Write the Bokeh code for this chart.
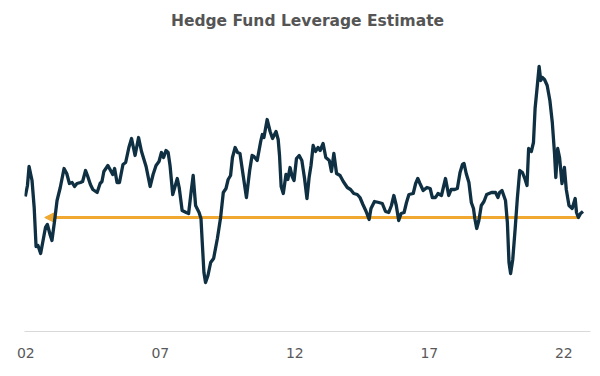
from bokeh.plotting import figure
from bokeh.models import Range1d, FixedTicker, Arrow, NormalHead, ColumnDataSource
from bokeh.embed import file_html
from bokeh.resources import INLINE

# ---- data ----
years = [
    2001.98, 2002.06, 2002.12, 2002.23, 2002.31, 2002.38, 2002.45, 2002.55, 2002.64, 2002.73,
    2002.80, 2002.91, 2002.97, 2003.07, 2003.16, 2003.28, 2003.42, 2003.52, 2003.62, 2003.72,
    2003.81, 2003.90, 2004.03, 2004.11, 2004.22, 2004.29, 2004.40, 2004.49, 2004.65, 2004.76,
    2004.83, 2004.90, 2005.05, 2005.15, 2005.23, 2005.30, 2005.39, 2005.48, 2005.61, 2005.71,
    2005.83, 2005.93, 2006.06, 2006.19, 2006.30, 2006.47, 2006.62, 2006.73, 2006.84, 2006.95,
    2007.04, 2007.12, 2007.21, 2007.29, 2007.36, 2007.46, 2007.63, 2007.70, 2007.81, 2007.96,
    2008.05, 2008.15, 2008.22, 2008.31, 2008.44, 2008.51, 2008.56, 2008.62, 2008.68, 2008.77,
    2008.87, 2008.98, 2009.12, 2009.24, 2009.34, 2009.44, 2009.52, 2009.61, 2009.68, 2009.78,
    2009.87, 2009.96, 2010.09, 2010.20, 2010.32, 2010.41, 2010.48, 2010.60, 2010.73, 2010.79,
    2010.85, 2010.97, 2011.08, 2011.17, 2011.30, 2011.38, 2011.43, 2011.49, 2011.57, 2011.67,
    2011.74, 2011.82, 2011.90, 2011.97, 2012.06, 2012.16, 2012.26, 2012.36, 2012.45, 2012.53,
    2012.60, 2012.68, 2012.77, 2012.86, 2012.94, 2013.05, 2013.15, 2013.28, 2013.36, 2013.45,
    2013.55, 2013.68, 2013.80, 2013.95, 2014.07, 2014.19, 2014.32, 2014.42, 2014.53, 2014.65,
    2014.76, 2014.83, 2014.96, 2015.12, 2015.25, 2015.37, 2015.49, 2015.59, 2015.68, 2015.77,
    2015.86, 2015.95, 2016.06, 2016.15, 2016.24, 2016.40, 2016.49, 2016.57, 2016.65, 2016.77,
    2016.91, 2017.03, 2017.11, 2017.23, 2017.32, 2017.45, 2017.52, 2017.60, 2017.72, 2017.81,
    2017.94, 2018.04, 2018.14, 2018.23, 2018.29, 2018.37, 2018.47, 2018.56, 2018.64, 2018.69,
    2018.76, 2018.84, 2018.93, 2019.03, 2019.13, 2019.22, 2019.31, 2019.46, 2019.55, 2019.61,
    2019.70, 2019.83, 2019.90, 2019.96, 2020.02, 2020.10, 2020.19, 2020.27, 2020.36, 2020.46,
    2020.56, 2020.63, 2020.69, 2020.79, 2020.87, 2020.93, 2021.01, 2021.08, 2021.14, 2021.20,
    2021.28, 2021.38, 2021.48, 2021.57, 2021.65, 2021.70, 2021.77, 2021.84, 2021.93, 2022.02,
    2022.09, 2022.19, 2022.31, 2022.42, 2022.47, 2022.54, 2022.62, 2022.71,
]
leverage = [
    13.5, 14.6, 16.5, 15.1, 12.4, 8.5, 8.6, 7.8, 9.1, 10.4,
    10.7, 9.6, 9.1, 11.1, 13.1, 14.4, 16.3, 15.8, 14.8, 14.9,
    14.5, 14.8, 14.9, 15.0, 16.1, 15.6, 14.7, 14.2, 13.9, 14.8,
    15.0, 16.0, 16.6, 16.1, 15.7, 16.3, 14.9, 14.9, 16.7, 16.9,
    18.4, 19.3, 17.6, 19.4, 18.0, 16.5, 14.5, 15.7, 16.6, 17.0,
    17.9, 17.4, 18.1, 17.9, 16.6, 13.7, 15.3, 14.4, 12.1, 11.9,
    11.8, 14.1, 15.6, 12.6, 11.9, 11.3, 8.8, 5.9, 4.9, 5.6,
    6.9, 7.3, 9.3, 11.4, 13.9, 14.3, 15.2, 15.6, 17.4, 18.4,
    17.9, 17.8, 15.4, 13.4, 16.1, 17.6, 17.5, 17.1, 19.0, 19.7,
    19.4, 21.2, 20.0, 19.3, 20.0, 19.2, 17.6, 14.5, 13.8, 15.7,
    15.2, 16.4, 15.5, 15.1, 17.3, 17.6, 17.1, 15.3, 13.3, 15.4,
    16.6, 18.6, 18.0, 18.4, 18.1, 18.8, 17.4, 17.1, 16.0, 17.8,
    15.8, 15.6, 15.0, 14.4, 14.2, 13.8, 13.7, 13.4, 12.7, 12.0,
    11.2, 12.3, 13.0, 12.9, 12.8, 12.0, 11.9, 12.6, 13.6, 12.6,
    11.1, 11.8, 11.9, 12.9, 13.7, 13.8, 14.8, 15.3, 14.8, 14.1,
    14.4, 14.3, 13.4, 13.4, 13.8, 13.6, 14.4, 15.3, 13.6, 14.2,
    14.2, 14.3, 15.9, 16.7, 16.8, 15.8, 14.9, 12.9, 12.3, 11.3,
    10.3, 11.1, 12.6, 13.0, 13.7, 13.8, 13.9, 13.9, 13.4, 13.9,
    14.1, 13.1, 10.9, 6.9, 5.8, 7.2, 10.3, 13.3, 16.1, 15.9,
    15.2, 14.6, 18.3, 18.0, 18.9, 22.3, 24.5, 26.5, 25.1, 25.4,
    25.2, 24.6, 23.1, 20.9, 17.9, 15.4, 18.3, 17.4, 14.8, 16.4,
    14.2, 12.6, 12.3, 13.3, 11.9, 11.4, 11.8, 12.0,
]
assert len(years) == len(leverage)

tick_years = [2002, 2007, 2012, 2017, 2022]
tick_labels = ["02", "07", "12", "17", "22"]

avg_level = 11.4
avg_start = 2022.58
avg_end = 2002.70

title_text = "Hedge Fund Leverage Estimate"

# ---- figure ----
p = figure(
    width=596, height=372,
    output_backend="svg", toolbar_location=None,
    x_range=Range1d(2001.95, 2022.99),
    y_range=Range1d(0, 29.5),
    y_axis_location=None,
    title=title_text,
    min_border_left=24, min_border_right=6,
    min_border_top=36, min_border_bottom=41,
)
p.outline_line_color = None
p.grid.visible = False
p.background_fill_color = "white"
p.border_fill_color = "white"

p.title.align = "center"
p.title.text_font = "DejaVu Sans"
p.title.text_font_style = "bold"
p.title.text_font_size = "15.5px"
p.title.text_color = "#555555"
p.title.standoff = 14

ax = p.xaxis[0]
ax.ticker = FixedTicker(ticks=tick_years)
ax.major_label_overrides = {t: l for t, l in zip(tick_years, tick_labels)}
ax.axis_line_color = "#d9d9d9"
ax.axis_line_width = 1
ax.major_tick_line_color = None
ax.minor_tick_line_color = None
ax.major_label_text_font = "DejaVu Sans"
ax.major_label_text_font_size = "14px"
ax.major_label_text_color = "#595959"
ax.major_label_standoff = 10

arrow = Arrow(
    end=NormalHead(size=9, fill_color="#F0A830", line_color="#F0A830", line_width=1),
    x_start=avg_start, y_start=avg_level, x_end=avg_end, y_end=avg_level,
    line_color="#F0A830", line_width=3, level="underlay",
)
p.add_layout(arrow)

src = ColumnDataSource(dict(x=years, y=leverage))
p.line("x", "y", source=src, line_color="#0F3042", line_width=3.3, line_join="round")

open("out.html", "w").write(file_html(p, INLINE))
